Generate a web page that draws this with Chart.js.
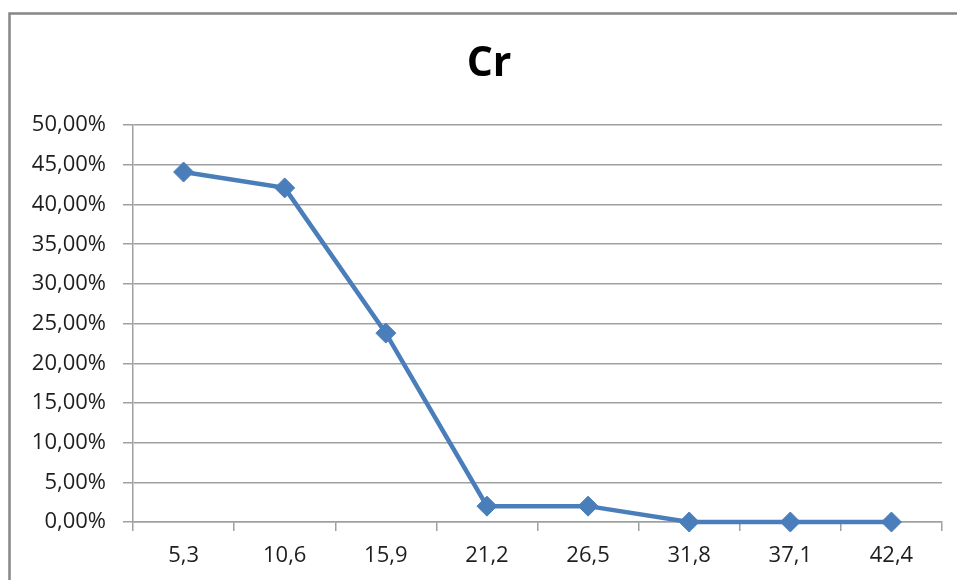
<!DOCTYPE html>
<html>
<head>
<meta charset="utf-8">
<script src="https://cdn.jsdelivr.net/npm/chart.js@4/dist/chart.umd.min.js"></script>
<style>
  html, body { margin: 0; padding: 0; background: #fff; }
  #wrap { width: 957px; height: 580px; }
</style>
</head>
<body>
<div id="wrap"><canvas id="chart"></canvas></div>
<script>
// Cr chart data
const categories = ["5,3", "10,6", "15,9", "21,2", "26,5", "31,8", "37,1", "42,4"];
const crValues = [44.1, 42.1, 23.8, 2.0, 2.0, 0, 0, 0];
const yTickLabels = ["0,00%", "5,00%", "10,00%", "15,00%", "20,00%", "25,00%",
                     "30,00%", "35,00%", "40,00%", "45,00%", "50,00%"];

const blue = "#4a7ebb";
const gridGray = "#a0a0a0";
const textColor = "#1e1e1e";

// outer frame of the chart object (left + top edges visible)
const framePlugin = {
    id: "frame",
    beforeDraw(chart) {
        const ctx = chart.ctx;
        ctx.save();
        ctx.strokeStyle = "#868686";
        ctx.lineWidth = 2.5;
        ctx.beginPath();
        ctx.moveTo(9.5, 580);
        ctx.lineTo(9.5, 13.5);
        ctx.lineTo(957, 13.5);
        ctx.stroke();
        ctx.restore();
    }
};

// title is centred on the frame, not on the canvas
const titleShift = {
    id: "titleShift",
    afterLayout(chart) {
        if (chart.titleBlock) {
            chart.titleBlock.left = 36;
        }
    }
};

const crChart = new Chart(document.getElementById("chart"), {
    type: "line",
    data: {
        labels: categories,
        datasets: [{
            label: "Cr",
            data: crValues,
            borderColor: blue,
            backgroundColor: blue,
            borderWidth: 4.5,
            pointStyle: "rectRot",
            pointRadius: 10,
            pointHoverRadius: 10,
            pointBorderWidth: 1,
            pointBorderColor: blue,
            pointBackgroundColor: blue,
            tension: 0,
            clip: false
        }]
    },
    options: {
        responsive: true,
        maintainAspectRatio: false,
        animation: false,
        layout: { padding: { left: 0, right: 15, top: 0, bottom: 0 } },
        plugins: {
            legend: { display: false },
            tooltip: { enabled: false },
            title: {
                display: true,
                text: "Cr",
                color: "#000",
                font: { family: "'Open Sans'", size: 41, weight: "bold" },
                padding: { top: 40, bottom: 36 }
            }
        },
        scales: {
            x: {
                offset: true,
                grid: {
                    offset: true,
                    drawOnChartArea: false,
                    drawTicks: true,
                    tickLength: 9,
                    color: gridGray,
                    lineWidth: 1.5
                },
                border: { display: true, color: gridGray, width: 1.5 },
                ticks: {
                    color: textColor,
                    padding: 12,
                    maxRotation: 0,
                    font: { family: "'Open Sans'", size: 22 }
                },
                afterFit(scale) { scale.height = 58; }
            },
            y: {
                min: 0,
                max: 50,
                grid: {
                    color: gridGray,
                    lineWidth: 1.5,
                    tickLength: 10
                },
                border: { display: true, color: gridGray, width: 1.5 },
                ticks: {
                    stepSize: 5,
                    color: textColor,
                    padding: 17,
                    font: { family: "'Open Sans'", size: 22 },
                    callback: (v, i) => yTickLabels[i]
                },
                afterFit(scale) { scale.width = 133; }
            }
        }
    },
    plugins: [framePlugin, titleShift]
});
</script>
</body>
</html>
